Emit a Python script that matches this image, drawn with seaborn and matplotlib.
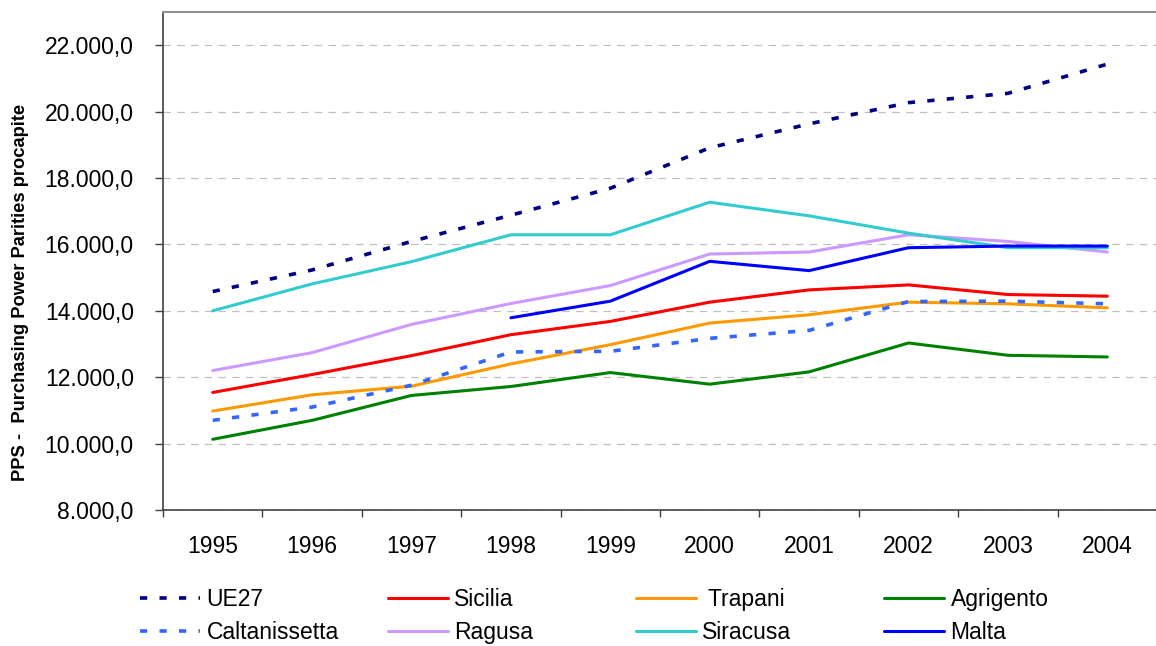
import numpy as np
import pandas as pd
import matplotlib
matplotlib.use("Agg")
import matplotlib.pyplot as plt
import seaborn as sns
from matplotlib.ticker import FixedLocator, FuncFormatter, NullFormatter

# data (PPS per capita)
years = ["1995", "1996", "1997", "1998", "1999", "2000", "2001", "2002", "2003", "2004"]
ue27 = [14580, 15230, 16090, 16880, 17690, 18910, 19630, 20270, 20550, 21430]
sicilia = [11540, 12080, 12650, 13280, 13680, 14260, 14630, 14780, 14490, 14440]
trapani = [10980, 11470, 11730, 12400, 12980, 13630, 13880, 14260, 14210, 14090]
agrigento = [10130, 10700, 11450, 11720, 12140, 11790, 12160, 13030, 12660, 12610]
caltanissetta = [10700, 11100, 11760, 12760, 12780, 13170, 13410, 14280, 14290, 14210]
ragusa = [12200, 12740, 13590, 14220, 14760, 15710, 15770, 16290, 16090, 15770]
siracusa = [14000, 14810, 15480, 16290, 16290, 17270, 16860, 16340, 15900, 15900]
malta = [np.nan, np.nan, np.nan, 13790, 14290, 15490, 15210, 15900, 15950, 15950]

series_names = ["UE27", "Sicilia", " Trapani", "Agrigento",
                "Caltanissetta", "Ragusa", "Siracusa", "Malta"]
series_values = [ue27, sicilia, trapani, agrigento,
                 caltanissetta, ragusa, siracusa, malta]
series_colors = ["#000080", "#FF0000", "#FF9900", "#008000",
                 "#3366FF", "#CC99FF", "#33CCCC", "#0000FF"]
dotted = {"UE27", "Caltanissetta"}

sns.set_theme(style="white")
plt.rcParams["font.family"] = ["Liberation Sans", "DejaVu Sans"]
plt.rcParams["text.color"] = "black"
plt.rcParams["axes.labelcolor"] = "black"
plt.rcParams["xtick.color"] = "black"
plt.rcParams["ytick.color"] = "black"

fig = plt.figure(figsize=(11.56, 6.46), dpi=100)
ax = fig.add_axes([163 / 1156, 1 - 510 / 646, 994 / 1156, 498 / 646])

x = np.arange(len(years))
handles = {}
for name, vals, col in zip(series_names, series_values, series_colors):
    df = pd.DataFrame({"x": x, "y": vals}).dropna()
    if name in dotted:
        ls = (0, (2.0, 3.4))
        lw = 2.6
    else:
        ls = "-"
        lw = 2.2
    sns.lineplot(data=df, x="x", y="y", ax=ax, color=col, linewidth=lw,
                 linestyle=ls, label=name, legend=False, zorder=3)
    ln = ax.get_lines()[-1]
    ln.set_dash_capstyle("butt")
    handles[name] = ln

# axes styling
ax.set_xlim(-0.5, 9.5)
ax.set_ylim(8000, 23000)
ax.set_xlabel("")
ax.set_ylabel("PPS -  Purchasing Power Parities procapite", fontsize=13.2,
              fontweight="bold")
ax.yaxis.set_label_coords((29 - 163) / 994, (510 - 292) / 498)

ax.xaxis.set_major_locator(FixedLocator(np.arange(-0.5, 10, 1)))
ax.xaxis.set_major_formatter(NullFormatter())
ax.xaxis.set_minor_locator(FixedLocator(x))
ax.set_xticklabels(years, minor=True)
ax.tick_params(axis="x", which="major", direction="out", length=5, width=1,
               color="#404040", bottom=True)
ax.tick_params(axis="x", which="minor", length=0, pad=18, labelsize=16.5)

ax.set_yticks(np.arange(8000, 22001, 2000))
ax.yaxis.set_major_formatter(FuncFormatter(
    lambda v, p: f"{v:,.1f}".replace(",", "X").replace(".", ",").replace("X", ".")))
ax.tick_params(axis="y", direction="out", length=6, width=1, color="#404040",
               left=True, pad=15, labelsize=16.5)
ax.yaxis.grid(True, color="#C0C0C0", linestyle=(0, (6, 5)), linewidth=0.9)
ax.set_axisbelow(True)

for s in ["left", "bottom"]:
    ax.spines[s].set_color("#404040")
    ax.spines[s].set_linewidth(1.2)
ax.spines["top"].set_color("#909090")
ax.spines["top"].set_linewidth(1.5)
ax.spines["right"].set_visible(False)

# legend laid out as 4 columns x 2 rows like the reference
columns = [["UE27", "Caltanissetta"], ["Sicilia", "Ragusa"],
           [" Trapani", "Siracusa"], ["Agrigento", "Malta"]]
col_x = [140, 388, 636, 884]
for names, cx in zip(columns, col_x):
    leg = fig.legend([handles[n] for n in names], names, loc="center left",
                     bbox_to_anchor=(cx / 1156, 1 - 616 / 646), frameon=False,
                     fontsize=16.5, borderpad=0, borderaxespad=0,
                     handlelength=2.6, handletextpad=0.3, labelspacing=0.45)

fig.savefig("out.png", dpi=100)
